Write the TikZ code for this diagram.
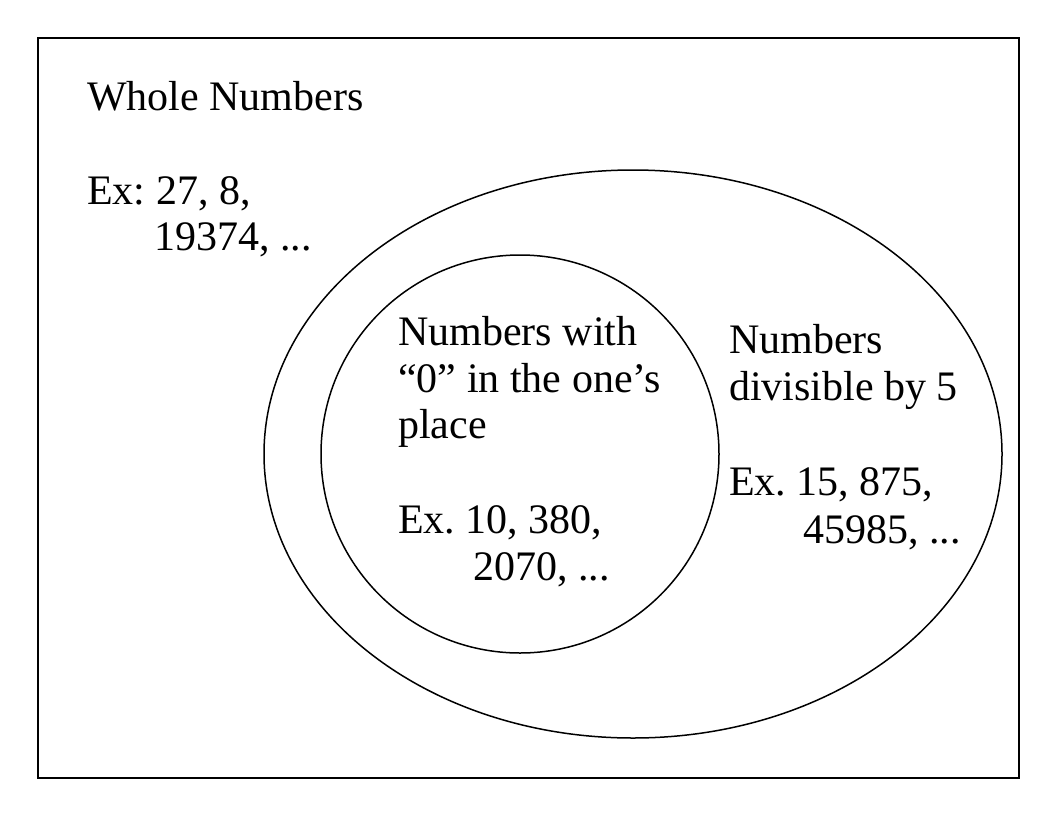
\documentclass[tikz,border=0pt]{standalone}
\usepackage{fontspec}
\setmainfont{Liberation Serif}
\usetikzlibrary{shapes.geometric}
\frenchspacing
\begin{document}
\begin{tikzpicture}[x=1pt,y=-1pt,
  lbl/.style={anchor=base west,inner sep=0pt,font=\fontsize{42}{47}\selectfont\frenchspacing},
  shp/.style={draw=black,line width=1.5pt}]
\useasboundingbox[fill=white] (0,0) rectangle (1056,816);
\node[shp,rectangle,minimum width=981pt,minimum height=740pt,inner sep=0pt] (frame) at (528.5,408) {};
\node[shp,ellipse,minimum width=738pt,minimum height=568pt,inner sep=0pt] (five) at (633,454) {};
\node[shp,circle,minimum size=398pt,inner sep=0pt] (zero) at (520,454) {};
\node[lbl] (w1) at (87,110) {Whole Numbers};
\node[lbl] (w2) at (87,204) {Ex: 27, 8,};
\node[lbl] (w3) at (154,250) {19374, ...};
\node[lbl] (z1) at (398,345) {Numbers with};
\node[lbl] (z2) at (398,392) {“0” in the one’s};
\node[lbl] (z3) at (398,438) {place};
\node[lbl] (z4) at (398,533) {Ex. 10, 380,};
\node[lbl] (z5) at (473,580) {2070, ...};
\node[lbl] (f1) at (729,353) {Numbers};
\node[lbl] (f2) at (729,400) {divisible by 5};
\node[lbl] (f3) at (729,495) {Ex. 15, 875,};
\node[lbl] (f4) at (803,543) {45985, ...};
\end{tikzpicture}
\end{document}
